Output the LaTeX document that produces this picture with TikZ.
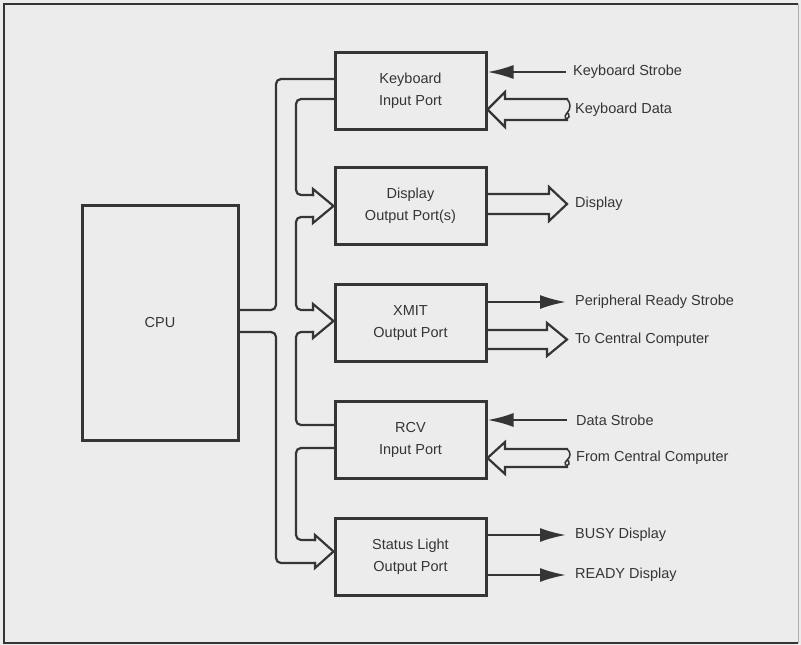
\documentclass[tikz,border=0pt]{standalone}
\usepackage{fontspec}
\setmainfont{Liberation Sans}
\usetikzlibrary{arrows.meta}
\definecolor{bg}{HTML}{ECECEC}
\definecolor{ink}{HTML}{353535}
\begin{document}
\begin{tikzpicture}[x=1pt,y=-1pt,
  every node/.style={text=ink,font=\fontsize{14.5}{22}\selectfont},
  portbox/.style={draw=ink,line width=3pt,minimum width=151pt,minimum height=77pt,align=center,inner sep=0pt},
  cpubox/.style={draw=ink,line width=3pt,minimum width=156pt,minimum height=235pt,inner sep=0pt},
  bus/.style={draw=ink,line width=2.2pt,rounded corners=5pt,line cap=rect},
  head/.style={draw=ink,line width=2.2pt,line join=miter,line cap=rect},
  sig/.style={draw=ink,line width=2.2pt,-{Latex[length=26pt,width=14pt]}},
  lbl/.style={anchor=west,inner sep=0pt}]
\useasboundingbox (0,0) rectangle (801,645);
\fill[bg] (0,0) rectangle (801,645);
\draw[ink,line width=2pt] (798,3.5) -- (4,3.5) -- (4,642.5) -- (798,642.5);
\draw[ink!40,line width=1pt] (798,3.5) -- (798,642.5);

% boxes
\node[cpubox] (cpu) at (160,322.5) {CPU};
\node[portbox] (kbd)  at (410.5,90.5)  {Keyboard\\Input Port};
\node[portbox] (disp) at (410.5,206)   {Display\\Output Port(s)};
\node[portbox] (xmit) at (410.5,323)   {XMIT\\Output Port};
\node[portbox] (rcv)  at (410.5,439.5) {RCV\\Input Port};
\node[portbox] (stat) at (410.5,556.5) {Status Light\\Output Port};

% bus: outer line
\path[bus] (kbd.west |- 0,79) -- (276,79) -- (276,310) -- (cpu.east |- 0,310);
\path[bus] (cpu.east |- 0,332) -- (276,332) -- (276,563) -- (315,563);
\path[head] (315,563) -- (315,568) -- (stat.west |- 0,551.5) -- (315,535) -- (315,540);
\path[bus] (315,540) -- (296,540) -- (296,448) -- (rcv.west |- 0,448);
% bus: inner line
\path[bus] (kbd.west |- 0,99) -- (296,99) -- (296,195) -- (313,195);
\path[head] (313,195) -- (313,189) -- (disp.west |- 0,206) -- (313,223) -- (313,217);
\path[bus] (313,217) -- (296,217) -- (296,310) -- (313,310);
\path[head] (313,310) -- (313,304) -- (xmit.west |- 0,321) -- (313,338) -- (313,332);
\path[bus] (313,332) -- (296,332) -- (296,425) -- (rcv.west |- 0,425);

% right side: keyboard
\coordinate (ks) at (566,72);
\draw[sig] (ks) -- (kbd.east |- ks);
\node[lbl] (lks) at (573,72) {Keyboard Strobe};
\path[head] (567,99) -- (505,99) -- (505,92) -- (kbd.east |- 0,109.5) -- (505,127) -- (505,120) -- (567,120);
\draw[ink,line width=1.5pt] (567,99) .. controls (571,103) and (571,109) .. (567,113) .. controls (563,117) and (566,121) .. (569,117) .. controls (570,115) and (568,112) .. (566,114);
\node[lbl] (lkd) at (575,109.5) {Keyboard Data};

% display
\path[head] (disp.east |- 0,194) -- (549,194) -- (549,187) -- (567,204) -- (549,221) -- (549,214) -- (disp.east |- 0,214);
\node[lbl] (ld) at (575,204) {Display};

% xmit
\coordinate (prs) at (566,302);
\draw[sig] (xmit.east |- prs) -- (prs);
\node[lbl] (lprs) at (575,302) {Peripheral Ready Strobe};
\path[head] (xmit.east |- 0,330) -- (547,330) -- (547,323) -- (567,339.5) -- (547,356) -- (547,349) -- (xmit.east |- 0,349);
\node[lbl] (ltc) at (575,339.5) {To Central Computer};

% rcv
\coordinate (ds) at (567,420);
\draw[sig] (ds) -- (rcv.east |- ds);
\node[lbl] (lds) at (576,420) {Data Strobe};
\path[head] (567,449) -- (505,449) -- (505,442) -- (rcv.east |- 0,458) -- (505,474) -- (505,467) -- (567,467);
\draw[ink,line width=1.5pt] (567,449) .. controls (571,452) and (571,457) .. (567,460) .. controls (563,463) and (566,468) .. (569,464) .. controls (570,462) and (568,459) .. (566,461);
\node[lbl] (lfc) at (576,458) {From Central Computer};

% status
\coordinate (bz) at (566,535);
\draw[sig] (stat.east |- bz) -- (bz);
\node[lbl] (lbz) at (575,535) {BUSY Display};
\coordinate (rd) at (566,575);
\draw[sig] (stat.east |- rd) -- (rd);
\node[lbl] (lrd) at (575,575) {READY Display};
\end{tikzpicture}
\end{document}
